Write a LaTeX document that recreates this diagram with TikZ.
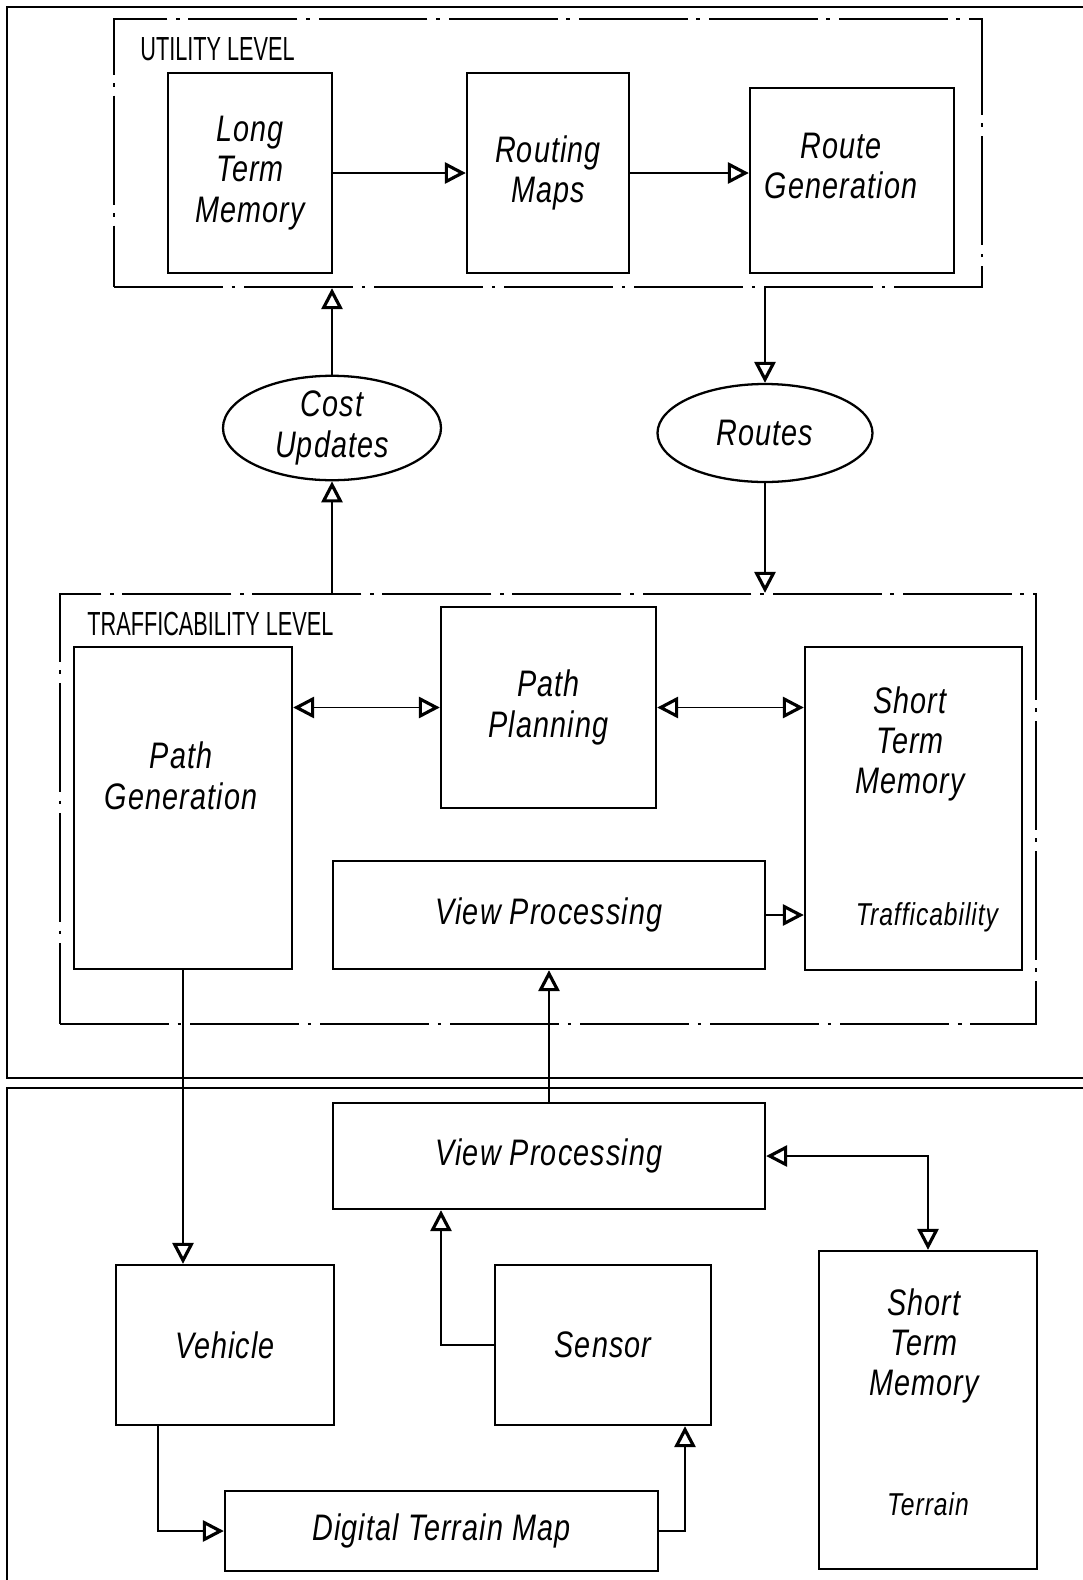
\documentclass[tikz,border=0pt]{standalone}
\usepackage{fontspec}
\newfontfamily\plotfont[FakeStretch=0.78, LetterSpace=3]{Liberation Sans}
\newfontfamily\levelfont[FakeStretch=0.65]{Liberation Sans}
\usetikzlibrary{arrows.meta,shapes.geometric}
\pgfdeclarelayer{nodelayer}
\pgfdeclarelayer{edgelayer}
\pgfsetlayers{edgelayer,nodelayer,main}
\tikzstyle{block}=[fill=white, draw=black, shape=rectangle, line width=1.3pt, inner sep=0pt, align=center, font=\plotfont\itshape\fontsize{21}{23}\selectfont]
\tikzstyle{blob}=[fill=white, draw=black, shape=ellipse, line width=1.3pt, inner sep=0pt, align=center, font=\plotfont\itshape\fontsize{21}{23}\selectfont]
\tikzstyle{level frame}=[fill=none, draw=black, shape=rectangle, line width=1.3pt, inner sep=0pt, dash pattern=on 62pt off 5pt on 2pt off 5pt]
\tikzstyle{word}=[fill=none, draw=none, align=center, font=\plotfont\itshape\fontsize{21}{23}\selectfont]
\tikzstyle{note}=[fill=none, draw=none, font=\plotfont\itshape\fontsize{18}{20}\selectfont]
\tikzstyle{level}=[fill=none, draw=none, anchor=base west, inner sep=0pt, font=\levelfont\fontsize{19}{21}\selectfont]
\tikzstyle{flow}=[draw=black, line width=1.1pt, ->]
\tikzstyle{twoway}=[draw=black, line width=1.1pt, <->]

\begin{document}
\begin{tikzpicture}[>={Triangle[open, length=12pt, width=12pt, line width=1.8pt]}]
	\useasboundingbox (0, 0) rectangle (21.66, -31.6);
	% outer frames
	\draw [line width=1.4pt] (21.66, -0.14) -- (0.14, -0.14) -- (0.14, -21.56) -- (21.66, -21.56);
	\draw [line width=1.4pt] (21.66, -21.76) -- (0.14, -21.76) -- (0.14, -31.6);
	\begin{pgfonlayer}{nodelayer}
		\node [style=level frame, minimum width=17.36cm, minimum height=5.36cm] (utility) at (10.96, -3.06) {};
		\node [style=level] (utitle) at (2.8, -1.2) {UTILITY LEVEL};
		\node [style=block, minimum width=3.28cm, minimum height=4cm] (ltm) at (5, -3.46) {Long\\Term\\Memory};
		\node [style=block, minimum width=3.24cm, minimum height=4cm] (maps) at (10.96, -3.46) {Routing\\Maps};
		\node [style=block, minimum width=4.08cm, minimum height=3.7cm] (routegen) at (17.04, -3.61) {};
		\node [style=word] (routegent) at (16.82, -3.32) {Route\\Generation};
		\node [style=blob, minimum width=4.36cm, minimum height=2cm] (cost) at (6.64, -8.56) {Cost\\Updates};
		\node [style=blob, minimum width=4.3cm, minimum height=1.96cm] (routes) at (15.3, -8.66) {Routes};
		\node [style=level frame, minimum width=19.52cm, minimum height=8.6cm] (traff) at (10.96, -16.18) {};
		\node [style=level] (ttitle) at (1.74, -12.7) {TRAFFICABILITY LEVEL};
		\node [style=block, minimum width=4.36cm, minimum height=6.44cm] (pathgen) at (3.66, -16.16) {};
		\node [style=word] (pathgent) at (3.62, -15.52) {Path\\Generation};
		\node [style=block, minimum width=4.3cm, minimum height=4.02cm] (planning) at (10.97, -14.15) {Path\\Planning};
		\node [style=block, minimum width=4.34cm, minimum height=6.46cm] (stm1) at (18.27, -16.17) {};
		\node [style=word] (stm1t) at (18.2, -14.88) {Short\\Term\\Memory};
		\node [style=note] (stm1n) at (18.54, -18.34) {Trafficability};
		\node [style=block, minimum width=8.64cm, minimum height=2.16cm] (view1) at (10.98, -18.3) {View Processing};
		\node [style=block, minimum width=8.64cm, minimum height=2.12cm] (view2) at (10.98, -23.12) {View Processing};
		\node [style=block, minimum width=4.36cm, minimum height=3.2cm] (vehicle) at (4.5, -26.9) {Vehicle};
		\node [style=block, minimum width=4.32cm, minimum height=3.2cm] (sensor) at (12.06, -26.9) {Sensor};
		\node [style=block, minimum width=4.36cm, minimum height=6.36cm] (stm2) at (18.56, -28.2) {};
		\node [style=word] (stm2t) at (18.48, -26.92) {Short\\Term\\Memory};
		\node [style=note] (stm2n) at (18.56, -30.08) {Terrain};
		\node [style=block, minimum width=8.66cm, minimum height=1.6cm] (dtm) at (8.83, -30.62) {Digital Terrain Map};
	\end{pgfonlayer}
	\begin{pgfonlayer}{edgelayer}
		\draw [style=flow] (ltm.east) to (maps.west);
		\draw [style=flow] (maps.east) to (maps.east -| routegen.west);
		\draw [style=flow] (cost.north) to (cost.north |- utility.south);
		\draw [style=flow] (cost.south |- traff.north) to (cost.south);
		\draw [style=flow] (routes.north |- utility.south) to (routes.north);
		\draw [style=flow] (routes.south) to (routes.south |- traff.north);
		\draw [style=twoway] (planning.west -| pathgen.east) to (planning.west);
		\draw [style=twoway] (planning.east) to (planning.east -| stm1.west);
		\draw [style=flow] (view1.east) to (view1.east -| stm1.west);
		\draw [style=flow] (pathgen.south) to (pathgen.south |- vehicle.north);
		\draw [style=flow] (view2.north) to (view1.south);
		\draw [style=flow] (sensor.west) -| ([xshift=-2.16cm]view2.south);
		\draw [style=twoway] (view2.east) -| (stm2.north);
		\draw [style=flow] ([xshift=-1.34cm]vehicle.south) |- (dtm.west);
		\draw [style=flow] (dtm.east) -| ([xshift=1.64cm]sensor.south);
	\end{pgfonlayer}
\end{tikzpicture}
\end{document}
